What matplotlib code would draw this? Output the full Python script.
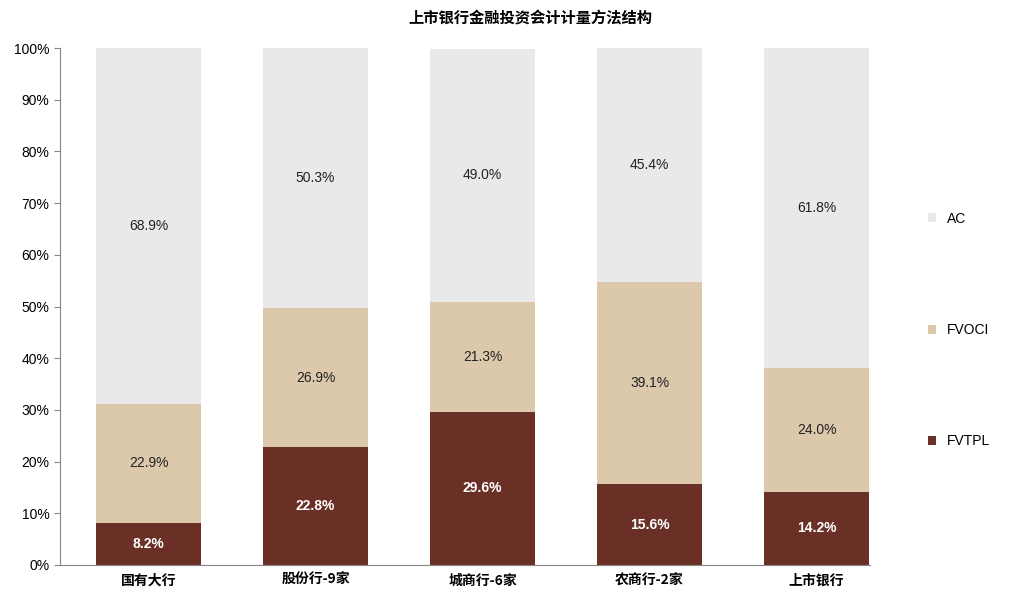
import numpy as np
import matplotlib.pyplot as plt
from matplotlib.ticker import PercentFormatter

plt.rcParams['font.family'] = ['Noto Sans CJK SC']

categories = ['国有大行', '股份行-9家', '城商行-6家', '农商行-2家', '上市银行']
fvtpl = [8.2, 22.8, 29.6, 15.6, 14.2]
fvoci = [22.9, 26.9, 21.3, 39.1, 24.0]
ac = [68.9, 50.3, 49.0, 45.4, 61.8]

c_ac, c_oci, c_tpl = '#e9e9eb', '#dcc9ab', '#6a2f25'

fig = plt.figure(figsize=(10.24, 6.02), dpi=100)
ax = fig.add_axes([60 / 1024, 37 / 602, 810 / 1024, 517 / 602])

x = np.arange(len(categories))
w = 0.63
b1 = ax.bar(x, fvtpl, w, color=c_tpl, label='FVTPL')
b2 = ax.bar(x, fvoci, w, bottom=fvtpl, color=c_oci, label='FVOCI')
bot3 = np.array(fvtpl) + np.array(fvoci)
b3 = ax.bar(x, ac, w, bottom=bot3, color=c_ac, label='AC')

for i in range(len(x)):
    ax.text(x[i], fvtpl[i] / 2, f'{fvtpl[i]:.1f}%', ha='center', va='center',
            color='white', fontsize=10, fontweight='bold', family='Liberation Sans')
    ax.text(x[i], fvtpl[i] + fvoci[i] / 2, f'{fvoci[i]:.1f}%', ha='center', va='center',
            color='#222222', fontsize=10, family='Liberation Sans')
    ax.text(x[i], bot3[i] + ac[i] / 2, f'{ac[i]:.1f}%', ha='center', va='center',
            color='#222222', fontsize=10, family='Liberation Sans')

ax.set_xlim(-0.53, 4.32)
ax.set_ylim(0, 100)
ax.set_yticks(range(0, 101, 10))
ax.yaxis.set_major_formatter(PercentFormatter(decimals=0))
ax.set_xticks(x)
ax.set_xticklabels(categories, fontsize=10, fontweight='bold')
for lbl in ax.get_yticklabels():
    lbl.set_family('Liberation Sans')
    lbl.set_fontsize(10)
for s in ['top', 'right']:
    ax.spines[s].set_visible(False)
ax.spines['left'].set_color('#888888')
ax.spines['bottom'].set_color('#888888')
ax.tick_params(axis='x', length=0, pad=6)
ax.tick_params(axis='y', color='#888888', length=4)

fig.text(530 / 1024, 1 - 18 / 602, '上市银行金融投资会计计量方法结构',
         ha='center', va='center', fontsize=11, fontweight='bold')

fig.legend(handles=[b3, b2, b1], labels=['AC', 'FVOCI', 'FVTPL'],
           loc='center left', bbox_to_anchor=(915 / 1024, 1 - 330 / 602),
           frameon=False, handlelength=0.6, handleheight=0.6,
           labelspacing=7.0, prop={'family': 'Liberation Sans', 'size': 10})

fig.savefig('out.png', dpi=100)
